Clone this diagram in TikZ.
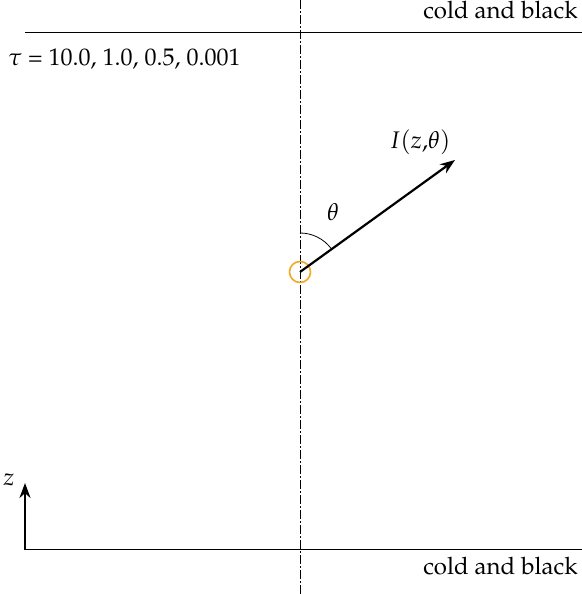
\documentclass[tikz,border=0pt]{standalone}
\usepackage[T1]{fontenc}
\usepackage{mathpazo}
\usetikzlibrary{arrows.meta}
\definecolor{srcorange}{HTML}{F5A623}

\begin{document}
\begin{tikzpicture}[x=0.5pt,y=0.5pt,>={Stealth[length=7.5pt,width=5.5pt]},font=\fontsize{12}{14}\selectfont]
  \tikzstyle{wall}=[draw=black, line width=0.5pt]
  \tikzstyle{axisline}=[draw=black, line width=0.4pt, dash pattern=on 4.5pt off 1.2pt on 0.6pt off 1.2pt]
  \tikzstyle{ray}=[->, line width=1.1pt]
  \tikzstyle{txt}=[inner sep=0pt]
  \tikzstyle{src}=[circle, draw=srcorange, line width=0.8pt, minimum size=10.5pt, inner sep=0pt]

  \path[use as bounding box] (0,0) rectangle (582,594);

  % walls
  \coordinate (topL) at (25,561);
  \coordinate (topR) at (582,561);
  \coordinate (botL) at (25,44);
  \coordinate (botR) at (582,44);
  \draw[wall] (topL) -- (topR);
  \draw[wall] (botL) -- (botR);
  \node[txt, anchor=base east] (topwall) at (578,575) {cold and black};
  \node[txt, anchor=base east] (botwall) at (578,19) {cold and black};

  % symmetry axis
  \coordinate (axtop) at (300,594);
  \coordinate (axbot) at (300,0);
  \draw[axisline] (axtop) -- (axbot);

  \node[txt, anchor=base west] (tau) at (8,528) {$\tau$ = 10.0, 1.0, 0.5, 0.001};

  % source point and intensity ray
  \node[src] (point) at (300,322) {};
  \coordinate (raytip) at (455,434);
  \draw[ray] (point.center) -- (raytip);
  \node[txt] (intens) at (420,452) {$I(z{,}\theta)$};
  \draw[line width=0.4pt] (300,361) arc[start angle=90, end angle=37, radius=19.5pt];
  \node[txt] (theta) at (333,382) {$\theta$};

  % z direction
  \coordinate (zfoot) at (25,44);
  \coordinate (ztip) at (25,111);
  \draw[ray] (zfoot) -- (ztip);
  \node[txt] (zlab) at (9,114) {$z$};
\end{tikzpicture}
\end{document}
